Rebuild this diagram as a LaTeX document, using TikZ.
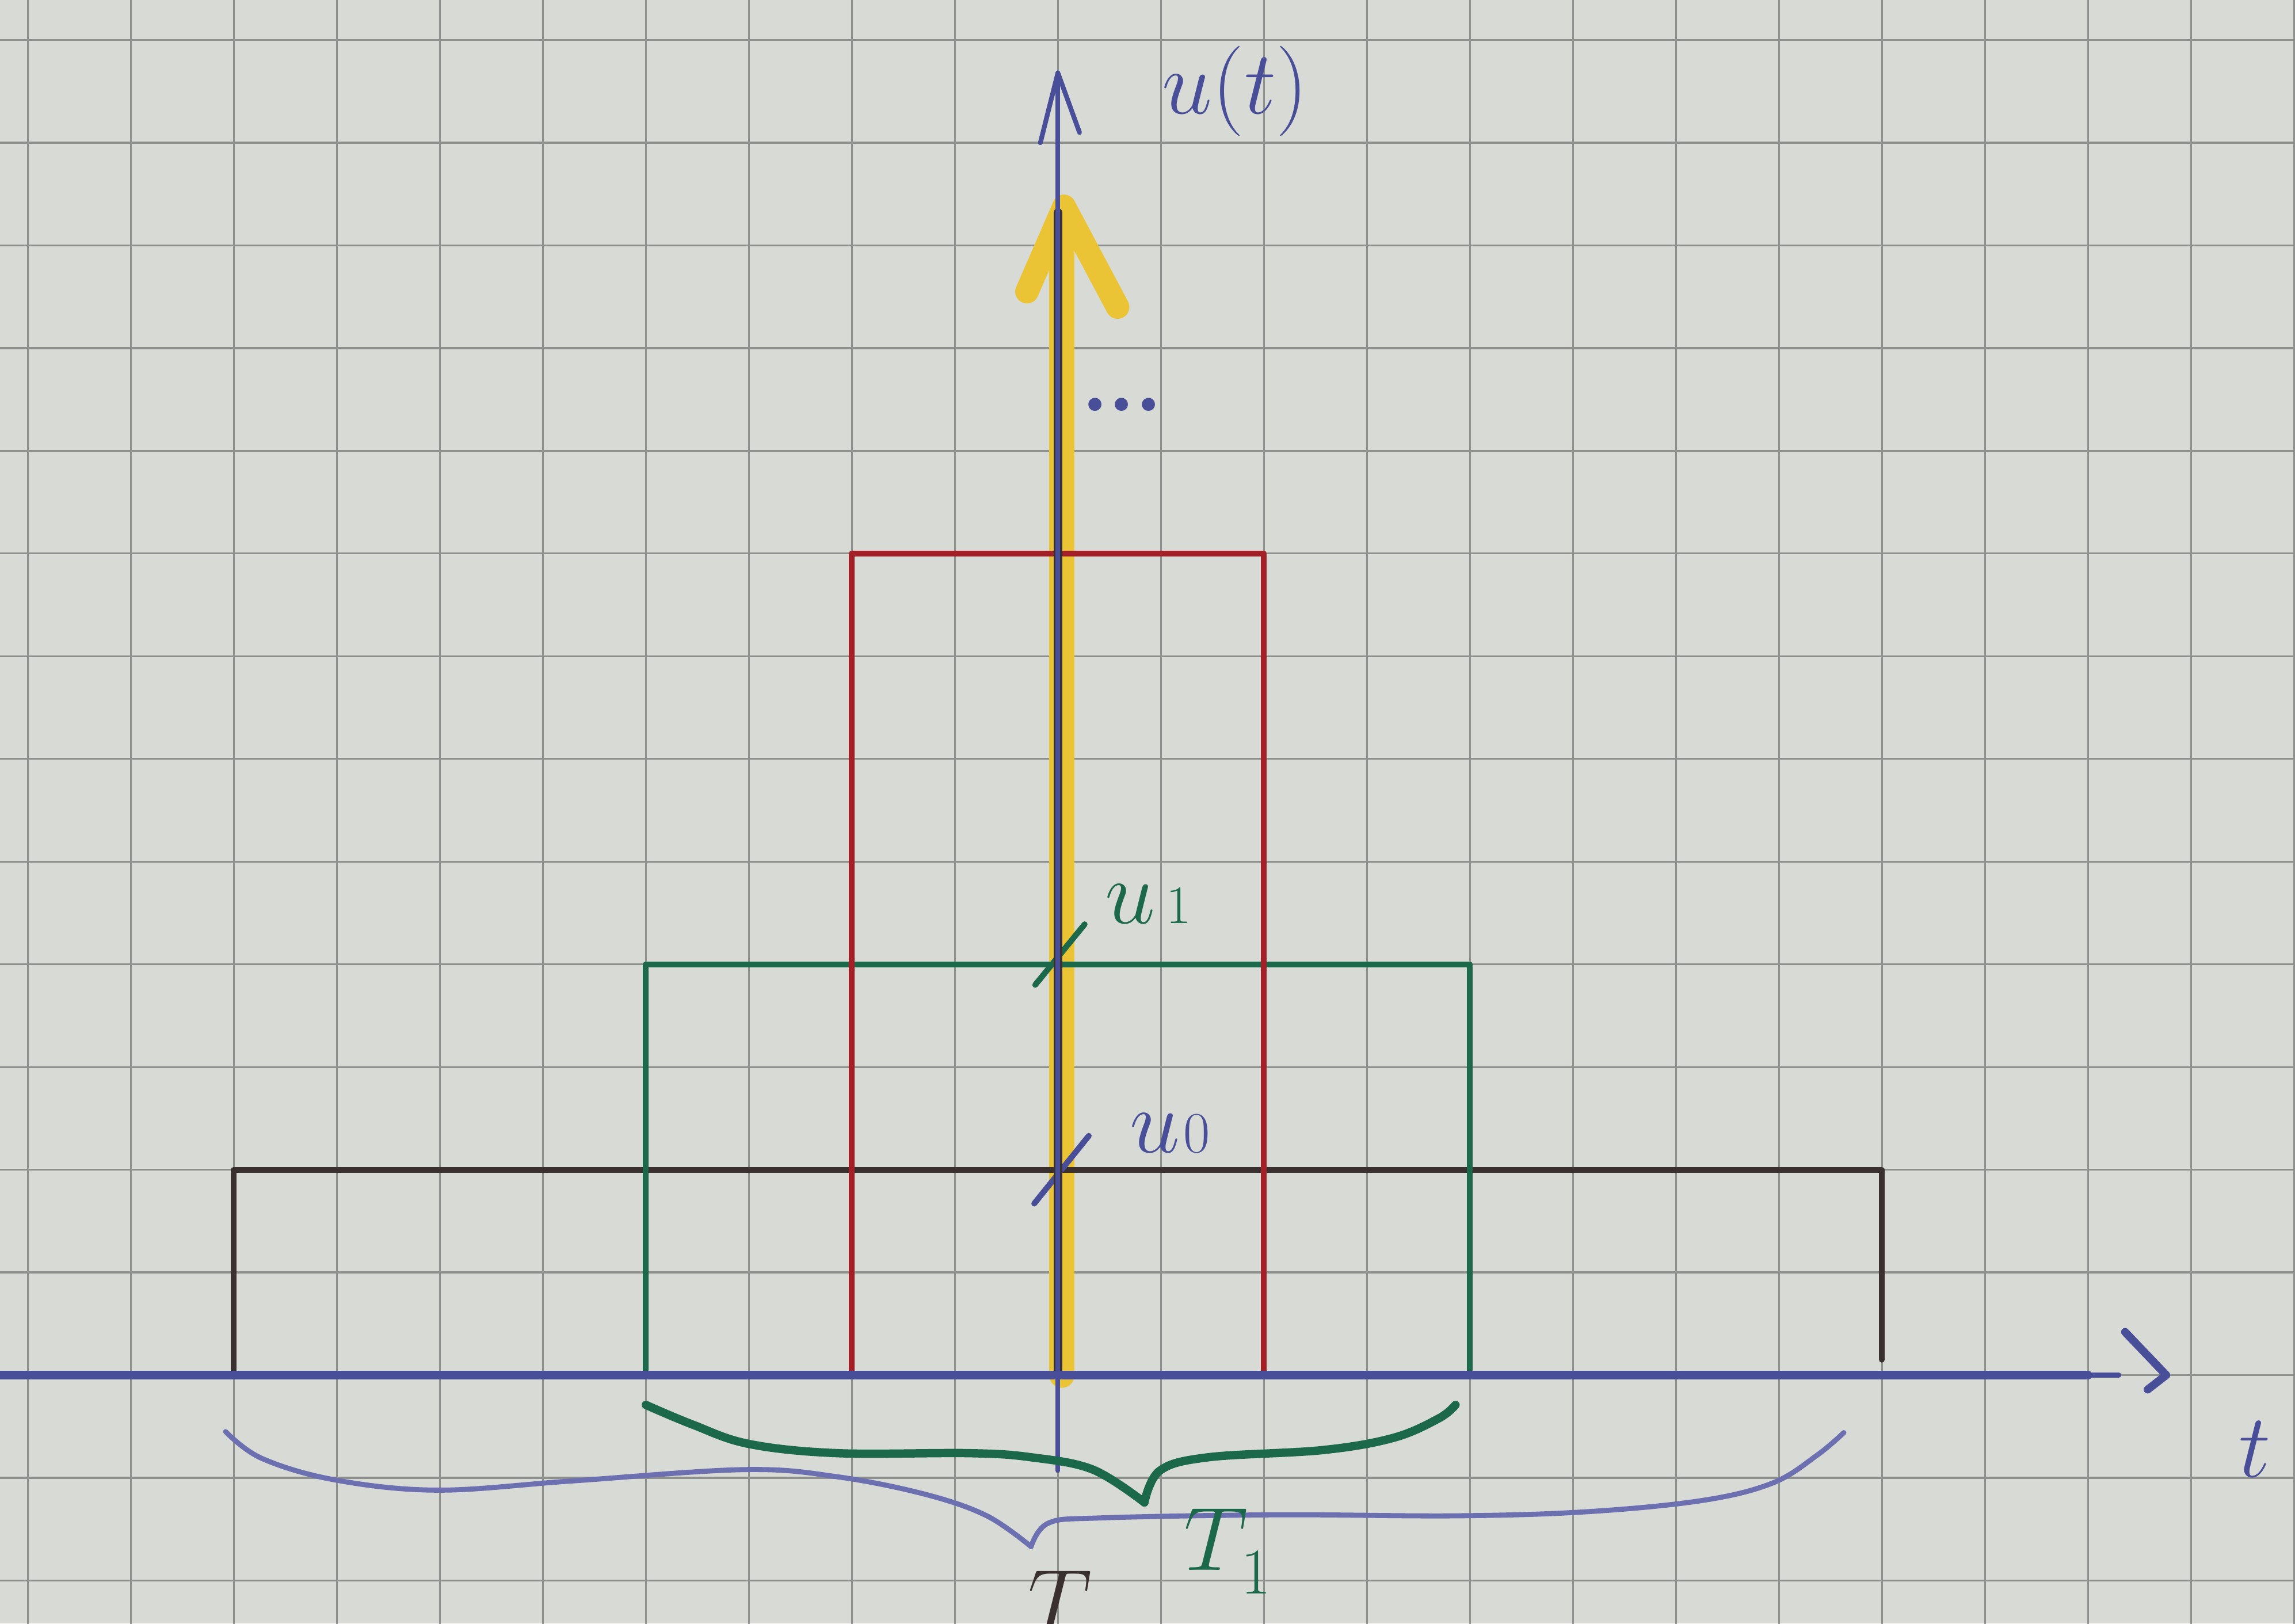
\documentclass[tikz,border=0pt]{standalone}
\usepackage{tikz}
\definecolor{paper}{RGB}{216,218,214}
\definecolor{gridc}{RGB}{142,144,142}
\definecolor{inkblue}{RGB}{72,78,152}
\definecolor{braceblue}{RGB}{108,112,176}
\definecolor{inkgreen}{RGB}{28,104,74}
\definecolor{inkred}{RGB}{162,32,38}
\definecolor{inkblack}{RGB}{58,48,48}
\definecolor{hlyellow}{RGB}{234,196,52}
\begin{document}
\begin{tikzpicture}[x=1cm,y=0.997cm,line cap=round,line join=round,
  gridline/.style={gridc,line width=0.5pt},
  bluepen/.style={inkblue,line width=1.3pt},
  blackpen/.style={inkblack,line width=1.6pt},
  greenpen/.style={inkgreen,line width=1.6pt},
  redpen/.style={inkred,line width=1.6pt},
  yellowpen/.style={hlyellow,line width=7pt},
  lbl/.style={inner sep=0pt}]
\useasboundingbox (-10.27,-2.42) rectangle (12.01,13.39);
\clip (-10.27,-2.42) rectangle (12.01,13.39);
\fill[paper] (-10.27,-2.42) rectangle (12.01,13.39);
\foreach \i in {-10,...,12} \draw[gridline] (\i,-2.42) -- (\i,13.39);
\foreach \j in {-2,...,13} \draw[gridline] (-10.27,\j) -- (12.01,\j);

% yellow highlighted impulse
\draw[yellowpen] (0.04,0) -- (0.04,11.2);
\draw[hlyellow,line width=6.5pt] (-0.3,10.55) -- (0.06,11.38) -- (0.58,10.4);

% rectangles
\draw[blackpen] (-8,0) -- (-8,2) -- (8,2) -- (8,0.15);
\draw[greenpen] (-4,0) -- (-4,4) -- (4,4) -- (4,0);
\draw[redpen] (-2,0) -- (-2,8) -- (2,8) -- (2,0);

% ticks
\draw[inkgreen,line width=1.6pt] (-0.22,3.80) -- (0.26,4.39);
\draw[inkblue,line width=1.6pt] (-0.23,1.67) -- (0.30,2.33);

% black impulse line
\draw[inkblack,line width=2.4pt] (0,0) -- (0,11.32);

% y axis
\coordinate (ybot) at (0,-0.93);
\coordinate (ytop) at (0,12.68);
\draw[bluepen] (ybot) -- (ytop);
\draw[bluepen] (-0.17,12.0) -- (ytop) -- (0.21,12.1);

% x axis
\coordinate (xleft) at (-10.4,0);
\coordinate (xmid) at (10.0,0);
\coordinate (xend) at (10.3,0);
\coordinate (xtip) at (10.76,0);
\draw[inkblue,line width=2.5pt] (xleft) -- (xmid);
\draw[bluepen] (xmid) -- (xend);
\draw[inkblue,line width=2.2pt] (10.36,0.42) -- (xtip) -- (10.58,-0.14);

% braces
\draw[inkgreen,line width=2.3pt] plot[smooth,tension=0.6] coordinates
  {(-4,-0.29) (-3.55,-0.48) (-3.0,-0.67) (-2.14,-0.76) (-0.86,-0.76) (-0.26,-0.80) (0.34,-0.92) (0.84,-1.24)};
\draw[inkgreen,line width=2.3pt] plot[smooth,tension=0.6] coordinates
  {(0.84,-1.24) (0.99,-0.93) (1.46,-0.80) (2.57,-0.73) (3.26,-0.61) (3.70,-0.42) (3.86,-0.29)};
\draw[braceblue,line width=1.4pt] plot[smooth,tension=0.6] coordinates
  {(-8.08,-0.55) (-7.73,-0.81) (-7.02,-1.02) (-6.02,-1.12) (-4.71,-1.03) (-3.04,-0.92) (-2.14,-0.99) (-1.29,-1.16) (-0.69,-1.37) (-0.26,-1.67)};
\draw[braceblue,line width=1.4pt] plot[smooth,tension=0.6] coordinates
  {(-0.26,-1.67) (-0.09,-1.44) (0.43,-1.39) (2.14,-1.36) (3.86,-1.37) (5.14,-1.33) (6.26,-1.22) (6.94,-1.05) (7.37,-0.78) (7.63,-0.56)};

% labels
\node[lbl,inkblue] (ulabel) at (1.72,12.5) {\fontsize{29}{32}\selectfont $u(t)$};
\node[lbl,inkblue] (dots) at (0.62,9.45) {\fontsize{44}{44}\selectfont .\kern-3.6pt.\kern-3.6pt.};
\node[lbl,inkgreen,anchor=base west] (uone) at (0.45,4.40)
  {{\fontsize{38}{38}\selectfont $u$}\kern3pt{\fontsize{15}{15}\selectfont 1}};
\node[lbl,inkblue,anchor=base west] (uzero) at (0.69,2.17)
  {{\fontsize{40}{40}\selectfont $u$}\kern1pt{\fontsize{16}{16}\selectfont 0}};
\node[lbl,inkgreen,anchor=base west] (tone) at (1.22,-1.9)
  {{\fontsize{34}{34}\selectfont $T$}\kern-2pt\raisebox{-6.5pt}{\fontsize{18}{18}\selectfont 1}};
\node[lbl,inkblack,anchor=north] (tzero) at (0.02,-1.9) {\fontsize{34}{34}\selectfont $T$};
\node[lbl,inkblue] (tlabel) at (11.62,-0.72) {\fontsize{32}{32}\selectfont $t$};
\end{tikzpicture}
\end{document}
